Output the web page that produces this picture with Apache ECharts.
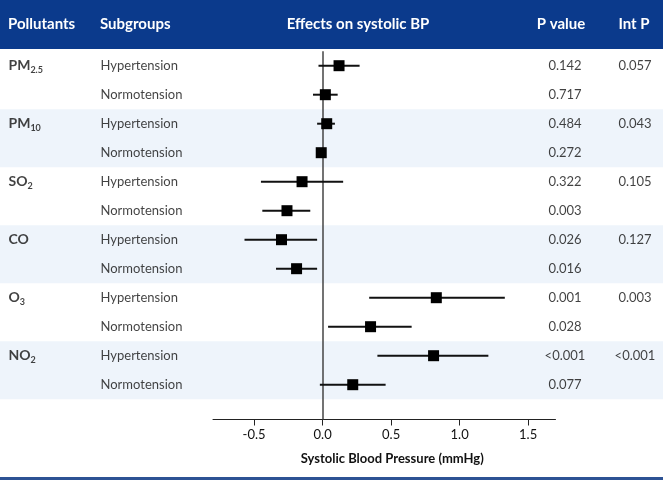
<!DOCTYPE html>
<html>
<head>
<meta charset="utf-8">
<script src="https://cdn.jsdelivr.net/npm/echarts@6/dist/echarts.min.js"></script>
<style>
  html, body { margin: 0; padding: 0; background: #fff; }
  #chart { width: 663px; height: 480px; }
</style>
</head>
<body>
<div id="chart"></div>
<script>
  // pollutant names, split into base + subscript
  var pollutantBase = ['PM', 'PM', 'SO', 'CO', 'O', 'NO'];
  var pollutantSub = ['2.5', '10', '2', '', '3', '2'];
  var subgroups = ['Hypertension', 'Normotension'];

  // effect estimates and 95% CI, one per row (Hyp, Normo per pollutant)
  var estimate = [0.12, 0.02, 0.03, -0.01, -0.15, -0.26, -0.30, -0.19, 0.83, 0.35, 0.81, 0.22];
  var lower = [-0.03, -0.07, -0.04, -0.03, -0.45, -0.44, -0.57, -0.34, 0.34, 0.04, 0.40, -0.02];
  var upper = [0.27, 0.11, 0.09, 0.01, 0.15, -0.09, -0.04, -0.04, 1.33, 0.65, 1.21, 0.46];

  var pValues = ['0.142', '0.717', '0.484', '0.272', '0.322', '0.003', '0.026', '0.016', '0.001', '0.028', '<0.001', '0.077'];
  var intP = ['0.057', '0.043', '0.105', '0.127', '0.003', '<0.001'];

  var xTicks = [-0.5, 0, 0.5, 1, 1.5];

  var FONT = 'Lato, "Open Sans", sans-serif';
  var HEADER_BLUE = '#0b3a8c';
  var BAND = '#eef4fb';
  var INK = '#111';

  var chart = echarts.init(document.getElementById('chart'));

  // build row-level data
  var pollutantRows = [], subgroupRows = [], pRows = [], intRows = [], forest = [];
  pollutantBase.forEach(function (p, i) {
    pollutantRows.push({value: [8, i * 2], name: p + '|' + pollutantSub[i]});
    intRows.push({value: [635, i * 2], name: intP[i]});
  });
  estimate.forEach(function (v, i) {
    subgroupRows.push({value: [100, i], name: subgroups[i % 2]});
    pRows.push({value: [565, i], name: pValues[i]});
    forest.push([v, i, lower[i], upper[i]]);
  });

  var yCommon = {
    type: 'value', min: -0.5, max: 12.2, inverse: true, show: false
  };

  var textLabel = {
    show: true, fontFamily: FONT, fontSize: 13, color: INK,
    formatter: function (p) { return p.name; }
  };

  var headFont = 'bold 15px ' + FONT;

  chart.setOption({
    animation: false,
    textStyle: {fontFamily: FONT},
    grid: [
      {left: 0, right: 0, top: 51.2, bottom: 60.5},
      {left: 213, right: 107.5, top: 51.2, bottom: 60.5}
    ],
    xAxis: [
      {gridIndex: 0, type: 'value', min: 0, max: 663, show: false},
      {
        gridIndex: 1, type: 'value', min: -0.8, max: 1.7,
        splitLine: {show: false},
        axisLine: {show: true, onZero: false, lineStyle: {color: '#222', width: 1}},
        axisTick: {show: true, customValues: xTicks, length: 6, lineStyle: {color: '#222'}},
        axisLabel: {
          customValues: xTicks, margin: 9, fontSize: 13, color: INK, fontFamily: FONT,
          formatter: function (v) { return v.toFixed(1); }
        },
        name: 'Systolic Blood Pressure (mmHg)',
        nameLocation: 'middle', nameGap: 33,
        nameTextStyle: {fontWeight: 'bold', fontSize: 13, color: INK, fontFamily: FONT, padding: [0, 0, 0, 16]}
      }
    ],
    yAxis: [
      Object.assign({gridIndex: 0}, yCommon),
      Object.assign({gridIndex: 1}, yCommon)
    ],
    graphic: [
      {type: 'rect', shape: {x: 0, y: 0, width: 663, height: 49}, style: {fill: HEADER_BLUE}, z: 10},
      {type: 'rect', shape: {x: 0, y: 477, width: 663, height: 3}, style: {fill: '#2d5294'}, z: 10},
      {type: 'text', x: 8, y: 24, z: 11, style: {text: 'Pollutants', fill: '#fff', font: headFont, verticalAlign: 'middle'}},
      {type: 'text', x: 100, y: 24, z: 11, style: {text: 'Subgroups', fill: '#fff', font: headFont, verticalAlign: 'middle'}},
      {type: 'text', x: 358, y: 24, z: 11, style: {text: 'Effects on systolic BP', fill: '#fff', font: headFont, align: 'center', verticalAlign: 'middle'}},
      {type: 'text', x: 561, y: 24, z: 11, style: {text: 'P value', fill: '#fff', font: headFont, align: 'center', verticalAlign: 'middle'}},
      {type: 'text', x: 634, y: 24, z: 11, style: {text: 'Int P', fill: '#fff', font: headFont, align: 'center', verticalAlign: 'middle'}}
    ],
    series: [
      {
        // row bands
        type: 'line', xAxisIndex: 0, yAxisIndex: 0, data: [], z: 0, silent: true,
        markArea: {
          silent: true,
          itemStyle: {color: BAND},
          data: [
            [{yAxis: 1.5}, {yAxis: 3.5}],
            [{yAxis: 5.5}, {yAxis: 7.5}],
            [{yAxis: 9.5}, {yAxis: 11.5}]
          ]
        }
      },
      {
        type: 'scatter', xAxisIndex: 0, yAxisIndex: 0, symbolSize: 1,
        itemStyle: {color: 'rgba(0,0,0,0)'}, data: pollutantRows,
        label: {
          show: true, position: 'right', distance: 0,
          formatter: function (p) {
            var parts = p.name.split('|');
            return '{b|' + parts[0] + '}' + (parts[1] ? '{s|' + parts[1] + '}' : '');
          },
          rich: {
            b: {fontFamily: FONT, fontWeight: 'bold', fontSize: 14, color: INK, lineHeight: 18},
            s: {fontFamily: FONT, fontWeight: 'bold', fontSize: 9, color: INK, padding: [8, 0, 0, 0], lineHeight: 18}
          }
        }
      },
      {
        type: 'scatter', xAxisIndex: 0, yAxisIndex: 0, symbolSize: 1,
        itemStyle: {color: 'rgba(0,0,0,0)'}, data: subgroupRows,
        label: Object.assign({position: 'right', distance: 0}, textLabel)
      },
      {
        type: 'scatter', xAxisIndex: 0, yAxisIndex: 0, symbolSize: 1,
        itemStyle: {color: 'rgba(0,0,0,0)'}, data: pRows,
        label: Object.assign({position: 'inside'}, textLabel)
      },
      {
        type: 'scatter', xAxisIndex: 0, yAxisIndex: 0, symbolSize: 1,
        itemStyle: {color: 'rgba(0,0,0,0)'}, data: intRows,
        label: Object.assign({position: 'inside'}, textLabel)
      },
      {
        type: 'custom', xAxisIndex: 1, yAxisIndex: 1, data: forest, z: 5,
        renderItem: function (params, api) {
          var y = api.value(1);
          var lo = api.coord([api.value(2), y]);
          var hi = api.coord([api.value(3), y]);
          var mid = api.coord([api.value(0), y]);
          var s = 11;
          return {
            type: 'group',
            children: [
              {type: 'line', shape: {x1: lo[0], y1: lo[1], x2: hi[0], y2: hi[1]}, style: {stroke: '#111', lineWidth: 2}},
              {type: 'rect', shape: {x: mid[0] - s / 2, y: mid[1] - s / 2, width: s, height: s}, style: {fill: '#000'}}
            ]
          };
        },
        markLine: {
          silent: true, symbol: 'none', label: {show: false},
          lineStyle: {color: '#444', width: 1.5, type: 'solid'},
          data: [{xAxis: 0}]
        }
      }
    ]
  });
</script>
</body>
</html>
